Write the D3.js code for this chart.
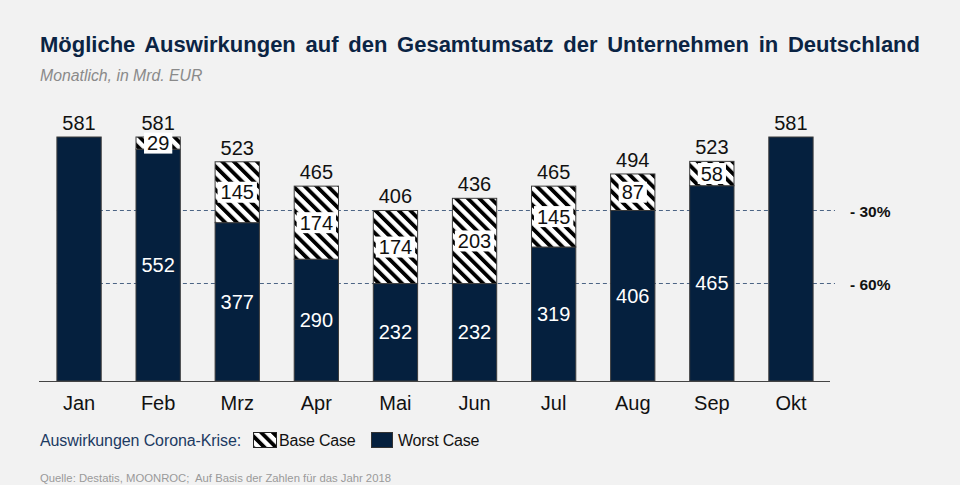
<!DOCTYPE html>
<html>
<head>
<meta charset="utf-8">
<script src="https://cdn.jsdelivr.net/npm/d3@7"></script>
<style>
  html, body { margin: 0; padding: 0; background: #f2f2f2; }
  svg { display: block; font-family: "Liberation Sans", Arial, sans-serif; }
</style>
</head>
<body>
<svg id="chart" width="960" height="485"></svg>
<script>
// data
const months = ["Jan", "Feb", "Mrz", "Apr", "Mai", "Jun", "Jul", "Aug", "Sep", "Okt"];
const worstCase = [581, 552, 377, 290, 232, 232, 319, 406, 465, 581];
const baseCase = [0, 29, 145, 174, 174, 203, 145, 87, 58, 0];
const totals = [581, 581, 523, 465, 406, 436, 465, 494, 523, 581];
const refLevel = 581;
const cuts = [0.3, 0.6];
const cutLabels = ["- 30%", "- 60%"];

const width = 960;
const height = 485;
const navy = "#05203e";

const svg = d3.select("#chart");

svg.append("rect")
  .attr("width", width)
  .attr("height", height)
  .attr("fill", "#f2f2f2");

// hatch pattern
const defs = svg.append("defs");
const hatch = defs.append("pattern")
  .attr("id", "hatch")
  .attr("patternUnits", "userSpaceOnUse")
  .attr("width", 8.2)
  .attr("height", 8.2)
  .attr("patternTransform", "rotate(-45)");
hatch.append("rect")
  .attr("width", 8.2)
  .attr("height", 8.2)
  .attr("fill", "#ffffff");
hatch.append("rect")
  .attr("width", 3.8)
  .attr("height", 8.2)
  .attr("fill", "#000000");

// scales
const x = d3.scaleBand()
  .domain(months)
  .range([39.5, 830.5])
  .paddingInner(0.44)
  .paddingOuter(0.22);

const y = d3.scaleLinear()
  .domain([0, refLevel])
  .range([381, 137]);

// title
const title = svg.append("text")
  .attr("x", 40)
  .attr("y", 52)
  .attr("fill", "#0b2444")
  .attr("font-size", 22)
  .attr("font-weight", "bold")
  .text("Mögliche Auswirkungen auf den Gesamtumsatz der Unternehmen in Deutschland");

// stretch word spacing to the reference width
const tLen = title.node().getComputedTextLength();
const gaps = title.text().split(" ").length - 1;
title.attr("word-spacing", Math.max(0, (880 - tLen) / gaps));

svg.append("text")
  .attr("x", 40)
  .attr("y", 81)
  .attr("fill", "#8a8a8a")
  .attr("font-size", 15.8)
  .attr("font-style", "italic")
  .text("Monatlich, in Mrd. EUR");

// dashed reference lines
cuts.forEach((c, i) => {
  const yy = Math.round(y(refLevel * (1 - c))) + 0.5;
  svg.append("line")
    .attr("x1", x("Jan"))
    .attr("x2", 835)
    .attr("y1", yy)
    .attr("y2", yy)
    .attr("stroke", "#4d6585")
    .attr("stroke-width", 1)
    .attr("stroke-dasharray", "4,3");

  svg.append("text")
    .attr("x", 850)
    .attr("y", yy + 6)
    .attr("font-size", 15.5)
    .attr("font-weight", "bold")
    .attr("fill", "#111")
    .text(cutLabels[i]);
});

// bars
const rows = months.map((m, i) => ({
  month: m,
  worst: worstCase[i],
  base: baseCase[i],
  total: totals[i]
}));

const g = svg.append("g");

g.selectAll("rect.worst")
  .data(rows)
  .join("rect")
  .attr("class", "worst")
  .attr("x", d => x(d.month))
  .attr("y", d => y(d.worst))
  .attr("width", x.bandwidth())
  .attr("height", d => y(0) - y(d.worst))
  .attr("fill", navy)
  .attr("stroke", "#3c3c3c")
  .attr("stroke-width", 1);

g.selectAll("rect.base")
  .data(rows.filter(d => d.base > 0))
  .join("rect")
  .attr("class", "base")
  .attr("x", d => x(d.month))
  .attr("y", d => y(d.worst + d.base))
  .attr("width", x.bandwidth())
  .attr("height", d => y(d.worst) - y(d.worst + d.base))
  .attr("fill", "url(#hatch)")
  .attr("stroke", "#3c3c3c")
  .attr("stroke-width", 1);

// baseline
svg.append("line")
  .attr("x1", 39)
  .attr("x2", 830)
  .attr("y1", 381.5)
  .attr("y2", 381.5)
  .attr("stroke", "#444")
  .attr("stroke-width", 1);

// worst case labels
g.selectAll("text.worst-label")
  .data(rows.filter(d => d.base > 0))
  .join("text")
  .attr("class", "worst-label")
  .attr("x", d => x(d.month) + x.bandwidth() / 2)
  .attr("y", d => (y(0) + y(d.worst)) / 2 + 7)
  .attr("text-anchor", "middle")
  .attr("font-size", 20)
  .attr("fill", "#ffffff")
  .text(d => d.worst);

// base case labels with white boxes
const baseLbl = g.selectAll("g.base-label")
  .data(rows.filter(d => d.base > 0))
  .join("g")
  .attr("class", "base-label")
  .attr("transform", d =>
    `translate(${x(d.month) + x.bandwidth() / 2}, ${(y(d.worst) + y(d.worst + d.base)) / 2})`);

baseLbl.append("text")
  .attr("y", 7)
  .attr("text-anchor", "middle")
  .attr("font-size", 20)
  .attr("fill", "#111")
  .text(d => d.base);

baseLbl.each(function () {
  const grp = d3.select(this);
  const bb = grp.select("text").node().getBBox();
  grp.insert("rect", ":first-child")
    .attr("x", bb.x - 3)
    .attr("y", -10.5)
    .attr("width", bb.width + 6)
    .attr("height", 21)
    .attr("fill", "#ffffff");
});

// totals
g.selectAll("text.total")
  .data(rows)
  .join("text")
  .attr("class", "total")
  .attr("x", d => x(d.month) + x.bandwidth() / 2)
  .attr("y", d => y(d.worst + d.base) - 7)
  .attr("text-anchor", "middle")
  .attr("font-size", 20)
  .attr("fill", "#111")
  .text(d => d.total);

// month axis labels
svg.append("g")
  .selectAll("text")
  .data(months)
  .join("text")
  .attr("x", d => x(d) + x.bandwidth() / 2)
  .attr("y", 410)
  .attr("text-anchor", "middle")
  .attr("font-size", 20)
  .attr("fill", "#111")
  .text(d => d);

// legend
const legend = svg.append("g");
legend.append("text")
  .attr("x", 40)
  .attr("y", 446)
  .attr("font-size", 16)
  .attr("letter-spacing", -0.1)
  .attr("fill", "#1c3a62")
  .text("Auswirkungen Corona-Krise:");

legend.append("rect")
  .attr("x", 253.5)
  .attr("y", 432.5)
  .attr("width", 23)
  .attr("height", 15)
  .attr("fill", "url(#hatch)")
  .attr("stroke", "#222");

legend.append("text")
  .attr("x", 279)
  .attr("y", 446)
  .attr("font-size", 16)
  .attr("letter-spacing", -0.2)
  .attr("fill", "#111")
  .text("Base Case");

legend.append("rect")
  .attr("x", 371.5)
  .attr("y", 432.5)
  .attr("width", 21)
  .attr("height", 15)
  .attr("fill", navy)
  .attr("stroke", "#333");

legend.append("text")
  .attr("x", 398)
  .attr("y", 446)
  .attr("font-size", 16)
  .attr("letter-spacing", -0.2)
  .attr("fill", "#111")
  .text("Worst Case");

// source
svg.append("text")
  .attr("x", 40)
  .attr("y", 482)
  .attr("font-size", 11.3)
  .attr("fill", "#9a9a9a")
  .attr("xml:space", "preserve")
  .style("white-space", "pre")
  .text("Quelle: Destatis, MOONROC;  Auf Basis der Zahlen für das Jahr 2018");
</script>
</body>
</html>
